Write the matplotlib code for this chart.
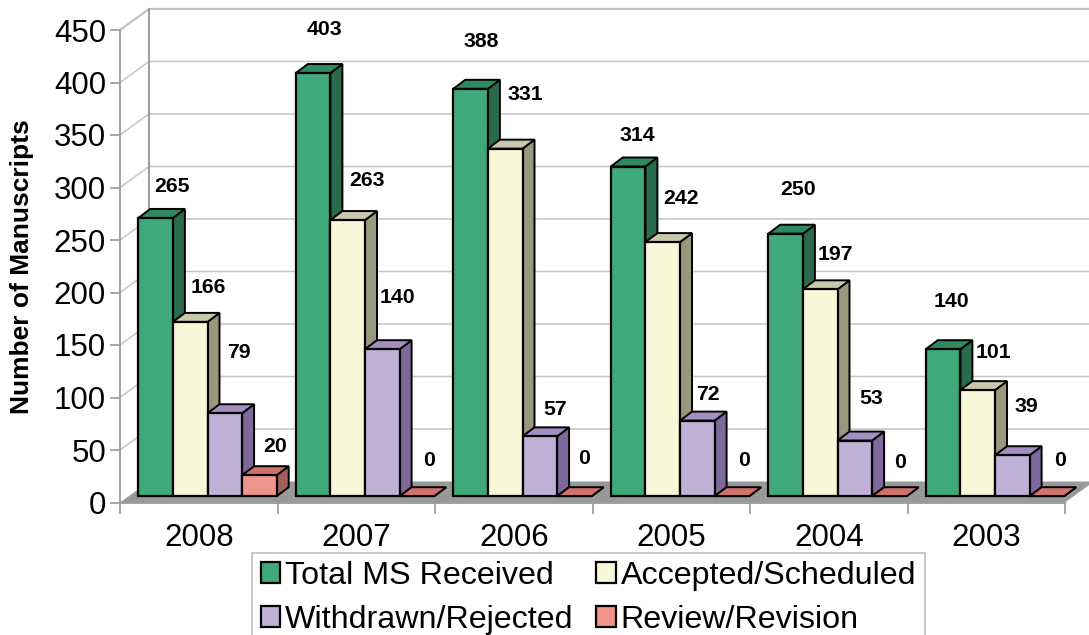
import matplotlib
matplotlib.use("Agg")
import matplotlib.pyplot as plt
from matplotlib.patches import Polygon, Patch

plt.rcParams['font.family'] = ['Liberation Sans', 'DejaVu Sans']

years = ['2008', '2007', '2006', '2005', '2004', '2003']
series_names = ['Total MS Received', 'Accepted/Scheduled', 'Withdrawn/Rejected', 'Review/Revision']
total_ms = [265, 403, 388, 314, 250, 140]
accepted = [166, 263, 331, 242, 197, 101]
withdrawn = [79, 140, 57, 72, 53, 39]
review = [20, 0, 0, 0, 0, 0]
y_ticks = list(range(0, 451, 50))

# label offsets from the bar's front-top centre, in pixels (right, up)
label_shift = [
    [(16.5, 31), (18, 34), (14, 61), (16, 29)],
    [(11, 44), (19, 40), (15, 52), (12, 36)],
    [(11, 47), (20, 54), (15, 27), (10, 38)],
    [(9.5, 31), (18, 44), (11, 26), (12, 36)],
    [(12, 44), (15, 35), (16, 42), (11, 34)],
    [(8.5, 48), (16, 38), (14, 49), (13.5, 36)],
]

front = ['#3FA97A', '#F8F8D8', '#BFB0D6', '#F0958C']
side = ['#2A6B4D', '#98987C', '#7F699C', '#A25F5C']
top = ['#2F8A60', '#C8C8AA', '#A68DC2', '#D0716C']
GRID = '#C4C4C4'
AXIS = '#9A9A9A'

W, H = 1089, 635
L, R, T, B = 120, 1065, 30, 502.5
fig = plt.figure(figsize=(W / 100, H / 100), dpi=100)
ax = fig.add_axes([L / W, 1 - B / H, (R - L) / W, (B - T) / H])
ax.set_xlim(0, len(years))
ax.set_ylim(0, 450)

px_x = (R - L) / len(years)
px_y = (B - T) / 450
wall_dx, wall_dy = 29 / px_x, 21 / px_y
bar_dx, bar_dy = 12 / px_x, 9 / px_y
base = 6.3 / px_y
pad = 18.3 / px_x
bar_w = 34.6 / px_x


def poly(points, fc, ec='none', lw=0.0, z=2):
    ax.add_patch(Polygon(points, closed=True, facecolor=fc, edgecolor=ec,
                         linewidth=lw, zorder=z, clip_on=False, joinstyle='miter'))


# walls and floor
n = len(years)
for v in y_ticks:
    lw = 1.6 if v == 450 else 1.1
    ax.plot([0, wall_dx, n + wall_dx], [v, v + wall_dy, v + wall_dy], color=GRID if v else 'none',
            lw=lw, clip_on=False, zorder=1, solid_joinstyle='miter')
ax.plot([wall_dx, wall_dx], [0, 450 + wall_dy], color=AXIS, lw=1.4, clip_on=False, zorder=1)
poly([(0, 0), (n, 0), (n + wall_dx, wall_dy), (wall_dx, wall_dy)], '#999999', z=1.5)

# bars
all_series = [total_ms, accepted, withdrawn, review]
for g in range(n):
    for s, values in enumerate(all_series):
        v = values[g]
        x0 = g + pad + s * bar_w
        x1 = x0 + bar_w
        y0, y1 = base, base + v
        z = 3 + g + s * 0.1
        poly([(x1, y0), (x1 + bar_dx, y0 + bar_dy), (x1 + bar_dx, y1 + bar_dy), (x1, y1)],
             side[s], 'black', 1.4, z)
        poly([(x0, y1), (x1, y1), (x1 + bar_dx, y1 + bar_dy), (x0 + bar_dx, y1 + bar_dy)],
             top[s], 'black', 1.4, z)
        if v > 0:
            poly([(x0, y0), (x1, y0), (x1, y1), (x0, y1)], front[s], 'black', 1.6, z)
        else:
            ax.plot([x0, x1], [y0, y0], color='black', lw=1.4, zorder=z, clip_on=False)
        sx, sy = label_shift[g][s]
        ax.annotate(str(v), xy=((x0 + x1) / 2, y1), xytext=(sx, sy), textcoords='offset pixels',
                    ha='center', va='center', fontsize=15.3, fontweight='bold', color='black',
                    zorder=20, annotation_clip=False)

# axes
for name in ('top', 'right'):
    ax.spines[name].set_visible(False)
for name in ('left', 'bottom'):
    ax.spines[name].set_color(AXIS)
    ax.spines[name].set_linewidth(1.3)
    ax.spines[name].set_zorder(1.6)
ax.patch.set_alpha(0)
ax.set_yticks(y_ticks)
ax.tick_params(axis='y', length=7, width=1.2, color=AXIS, labelsize=22.5, pad=3)
ax.set_xticks(range(n + 1))
ax.set_xticklabels([])
ax.set_xticks([i + 0.5 for i in range(n)], labels=years, minor=True)
ax.tick_params(axis='x', which='major', length=8, width=1.2, color=AXIS)
ax.tick_params(axis='x', which='minor', length=0, labelsize=22.5, pad=15)
fig.text(22 / W, 1 - 267 / H, 'Number of Manuscripts', rotation=90, ha='center', va='center',
         fontsize=19, fontweight='bold')

handles = [Patch(facecolor=c, edgecolor='black', linewidth=1.6) for c in front]
order = [0, 2, 1, 3]
leg = fig.legend([handles[i] for i in order], [series_names[i] for i in order], ncol=2, loc='upper left',
                 bbox_to_anchor=(252 / W, 1 - 552.5 / H), frameon=True, fancybox=False,
                 edgecolor='#BDBDBD', facecolor='white', framealpha=1, fontsize=23.2,
                 handlelength=0.6, handleheight=0.62, handletextpad=0.16, columnspacing=0.7,
                 labelspacing=0.42, borderpad=0.27, borderaxespad=0)
leg.get_frame().set_linewidth(1.2)

fig.savefig('out.png', dpi=100)
